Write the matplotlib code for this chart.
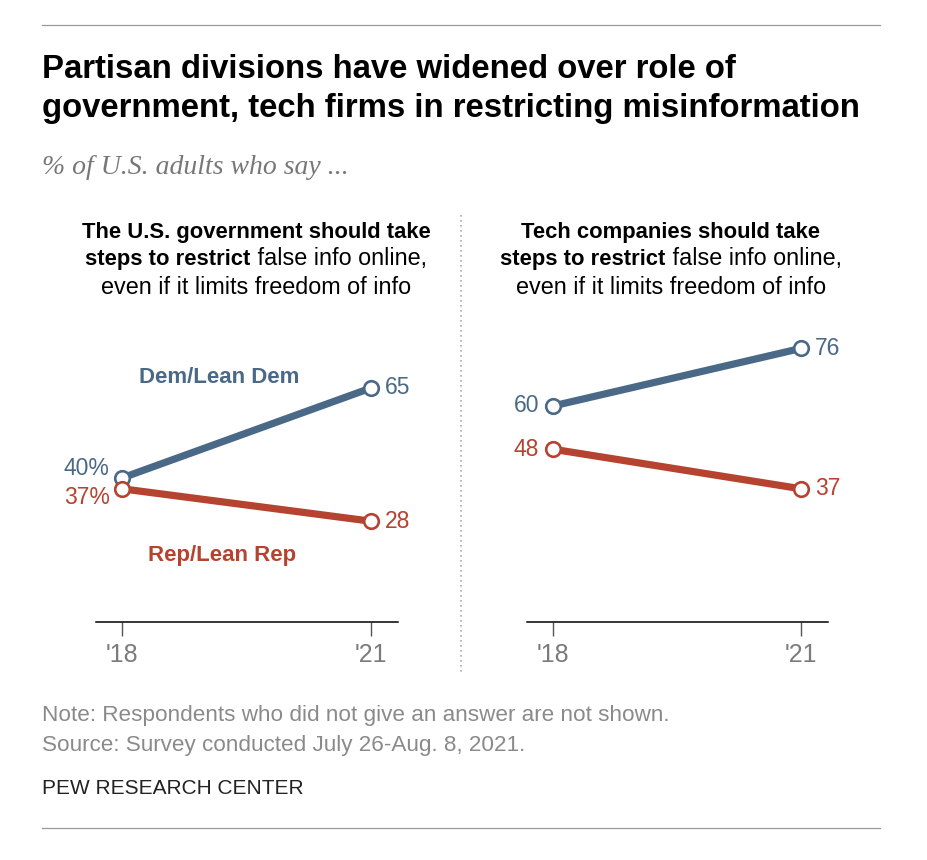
import matplotlib
matplotlib.use("Agg")
import matplotlib.pyplot as plt
from matplotlib.lines import Line2D

years = ["'18", "'21"]
gov_dem = [40, 65]
gov_rep = [37, 28]
tech_dem = [60, 76]
tech_rep = [48, 37]

DEM = "#4a6987"
REP = "#b5432f"
GRAY = "#7b7b7b"

plt.rcParams['font.family'] = ['Liberation Sans', 'DejaVu Sans']

fig = plt.figure(figsize=(9.28, 8.6), dpi=100)
W, H = 928, 860


def fx(px):
    return px / W


def fy(py):
    return 1 - py / H


# rules top and bottom
fig.add_artist(Line2D([fx(42), fx(880)], [fy(25), fy(25)], color="#999999", lw=0.9))
fig.add_artist(Line2D([fx(42), fx(880)], [fy(828), fy(828)], color="#999999", lw=0.9))
# dotted divider
fig.add_artist(Line2D([fx(461), fx(461)], [fy(215), fy(675)], color="#aaaaaa",
                      lw=1.2, linestyle=(0, (1, 2))))

fig.text(fx(42), fy(70), "Partisan divisions have widened over role of",
         fontsize=23.7, fontweight="bold", va="center", ha="left")
fig.text(fx(42), fy(108), "government, tech firms in restricting misinformation",
         fontsize=23.7, fontweight="bold", va="center", ha="left")
fig.text(fx(42), fy(168), "% of U.S. adults who say ...", fontsize=20, style="italic",
         family=["Liberation Serif", "DejaVu Serif"], color="#777777", va="center")

renderer = fig.canvas.get_renderer()


def mixed_line(xc, ypx, parts):
    # parts: list of (text, weight); centered at xc
    objs = []
    for txt, wt in parts:
        size = 15.8 if wt == "bold" else 16.8
        t = fig.text(0, fy(ypx), txt, fontsize=size, fontweight=wt, va="center", ha="left")
        objs.append(t)
    widths = [t.get_window_extent(renderer).width for t in objs]
    x = xc - sum(widths) / 2
    for t, w in zip(objs, widths):
        t.set_x(fx(x))
        x += w


def panel_title(xc, lines):
    for ypx, parts in zip([232, 259, 287], lines):
        mixed_line(xc, ypx, parts)


panel_title(256, [[("The U.S. government should take", "bold")],
                  [("steps to restrict", "bold"), (" false info online,", "normal")],
                  [("even if it limits freedom of info", "normal")]])
panel_title(671, [[("Tech companies should take", "bold")],
                  [("steps to restrict", "bold"), (" false info online,", "normal")],
                  [("even if it limits freedom of info", "normal")]])

x = [0, 1]
x0 = -26 / 249
x1 = 1 + 27 / 249
bottom = fy(622)
height = 324 / H


def setup(ax):
    ax.set_xlim(x0, x1)
    ax.set_ylim(0, 90)
    for s in ["left", "right", "top"]:
        ax.spines[s].set_visible(False)
    ax.spines["bottom"].set_linewidth(1.1)
    ax.set_yticks([])
    ax.set_xticks(x)
    ax.set_xticklabels(years)
    ax.tick_params(axis="x", length=10, width=1, color="#555555", labelsize=18,
                   labelcolor=GRAY, pad=5)
    ax.patch.set_alpha(0)


def series(ax, vals, color):
    ax.plot(x, vals, color=color, lw=5.2, solid_capstyle="butt", zorder=2)
    ax.plot(x, vals, "o", ms=10.5, mfc="white", mec=color, mew=1.9, zorder=3)


LBL = 16.5

ax1 = fig.add_axes([fx(96), bottom, 302 / W, height])
setup(ax1)
series(ax1, gov_dem, DEM)
series(ax1, gov_rep, REP)
ax1.annotate(f"{gov_dem[0]}%", (0, gov_dem[0]), xytext=(-9, 7), textcoords="offset points",
             ha="right", va="center", fontsize=LBL, color=DEM)
ax1.annotate(f"{gov_rep[0]}%", (0, gov_rep[0]), xytext=(-9, -6), textcoords="offset points",
             ha="right", va="center", fontsize=LBL, color=REP)
ax1.annotate(f"{gov_dem[1]}", (1, gov_dem[1]), xytext=(10, 0), textcoords="offset points",
             ha="left", va="center", fontsize=LBL, color=DEM)
ax1.annotate(f"{gov_rep[1]}", (1, gov_rep[1]), xytext=(10, 0), textcoords="offset points",
             ha="left", va="center", fontsize=LBL, color=REP)
ax1.text(0.39, 67.8, "Dem/Lean Dem", color=DEM, fontsize=16, fontweight="bold",
         ha="center", va="center")
ax1.text(0.40, 18.6, "Rep/Lean Rep", color=REP, fontsize=16, fontweight="bold",
         ha="center", va="center")

ax2 = fig.add_axes([fx(527), bottom, 301 / W, height])
setup(ax2)
series(ax2, tech_dem, DEM)
series(ax2, tech_rep, REP)
ax2.annotate(f"{tech_dem[0]}", (0, tech_dem[0]), xytext=(-10, 0), textcoords="offset points",
             ha="right", va="center", fontsize=LBL, color=DEM)
ax2.annotate(f"{tech_rep[0]}", (0, tech_rep[0]), xytext=(-10, 0), textcoords="offset points",
             ha="right", va="center", fontsize=LBL, color=REP)
ax2.annotate(f"{tech_dem[1]}", (1, tech_dem[1]), xytext=(10, 0), textcoords="offset points",
             ha="left", va="center", fontsize=LBL, color=DEM)
ax2.annotate(f"{tech_rep[1]}", (1, tech_rep[1]), xytext=(10, 0), textcoords="offset points",
             ha="left", va="center", fontsize=LBL, color=REP)

fig.text(fx(42), fy(716), "Note: Respondents who did not give an answer are not shown.",
         fontsize=16.2, color="#8a8a8a", va="center")
fig.text(fx(42), fy(745), "Source: Survey conducted July 26-Aug. 8, 2021.",
         fontsize=16.2, color="#8a8a8a", va="center")
fig.text(fx(42), fy(789), "PEW RESEARCH CENTER", fontsize=15, color="#222222", va="center")

fig.savefig("out.png", dpi=100)
